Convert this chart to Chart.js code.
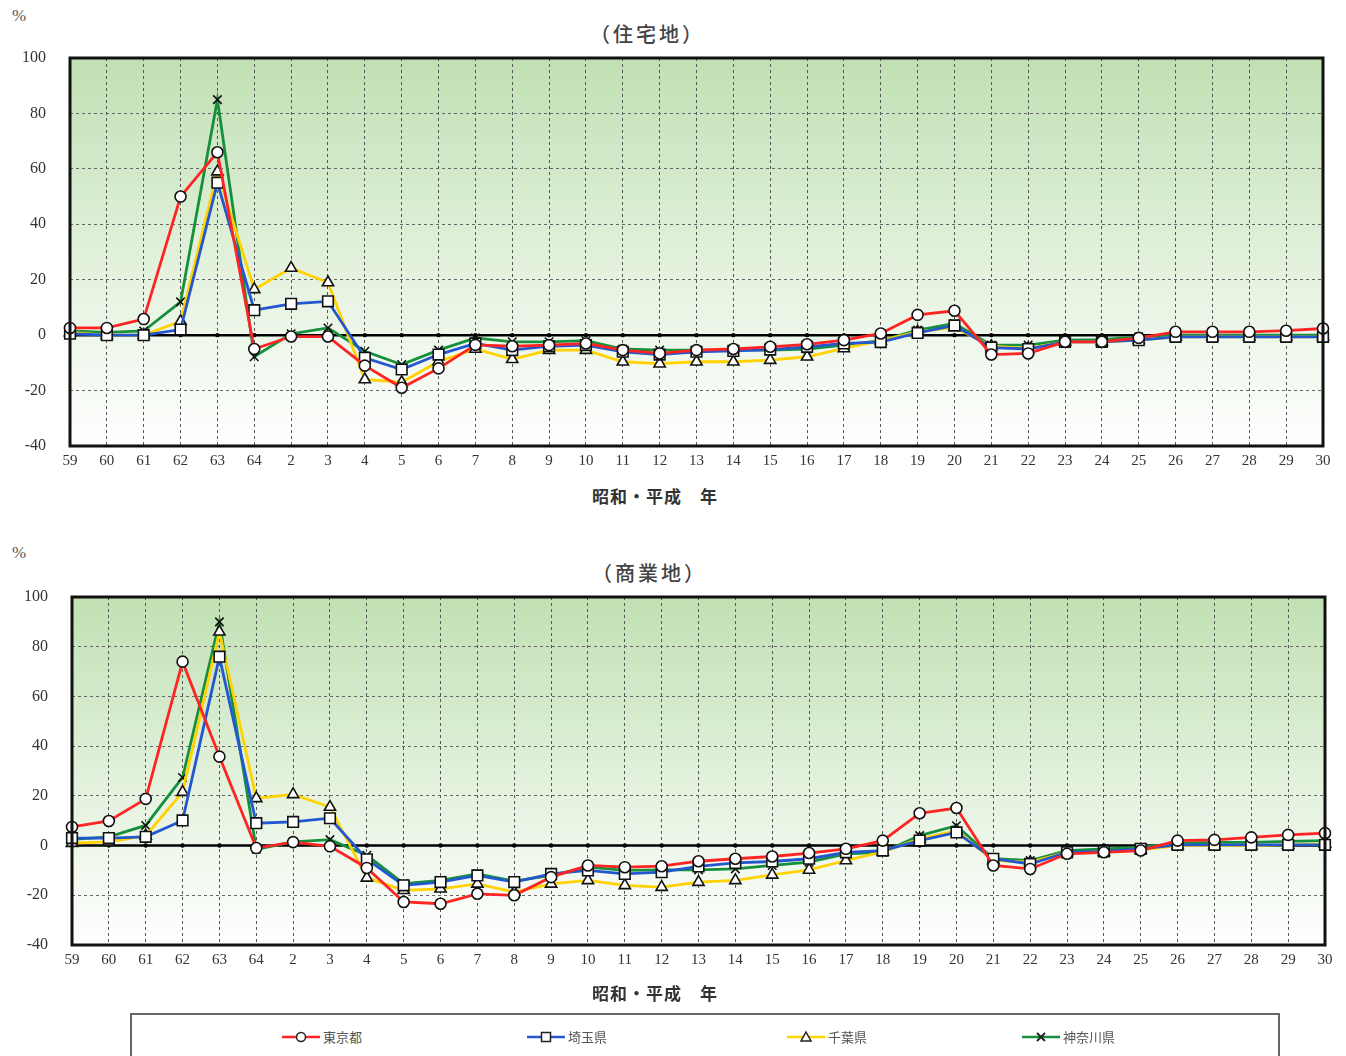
<!DOCTYPE html>
<html lang="ja">
<head>
<meta charset="utf-8">
<script src="https://cdn.jsdelivr.net/npm/chart.js@4.4.1/dist/chart.umd.min.js"></script>
<style>
  body { margin: 0; background: #fff; width: 1346px; height: 1056px; position: relative; overflow: hidden;
         font-family: "Noto Sans CJK JP", sans-serif; }
  .abs { position: absolute; white-space: nowrap; }
  .pct { font-family: "Liberation Serif", serif; font-size: 17px; color: #555; }
  .title { font-size: 20px; font-weight: 500; color: #444; letter-spacing: 3px; }
  .xlab { font-size: 17px; font-weight: 700; color: #333; letter-spacing: 1px; }
  canvas { position: absolute; left: 0; }
  #legend { position: absolute; left: 130px; top: 1013px; width: 1146px; height: 60px; border: 2px solid #666; }
  .item { position: absolute; top: 12px; font-size: 13px; color: #555; display: flex; align-items: center; }
  .item svg { margin-right: 3px; }
</style>
</head>
<body>
<div class="abs pct" style="left:12px;top:6px;">%</div>
<div class="abs title" style="left:590px;top:19px;">（住宅地）</div>
<canvas id="res" width="1346" height="480" style="top:0"></canvas>
<div class="abs xlab" style="left:592px;top:483px;">昭和・平成　年</div>

<div class="abs pct" style="left:12px;top:543px;">%</div>
<div class="abs title" style="left:592px;top:558px;">（商業地）</div>
<canvas id="com" width="1346" height="480" style="top:520px"></canvas>
<div class="abs xlab" style="left:592px;top:980px;">昭和・平成　年</div>

<div id="legend"></div>

<script>
const years = ['59','60','61','62','63','64','2','3','4','5','6','7','8','9','10','11','12','13','14',
  '15','16','17','18','19','20','21','22','23','24','25','26','27','28','29','30'];
const yTicks = [-40, -20, 0, 20, 40, 60, 80, 100];

const prefNames = ['東京都', '埼玉県', '千葉県', '神奈川県'];
const prefColors = ['#ff2424', '#2457cf', '#ffd200', '#16903c'];
const prefMarkers = ['circle', 'rect', 'triangle', 'crossRot'];

// 住宅地
const resTokyo = [2.6, 2.6, 5.8, 50, 66, -5, -0.5, -0.5, -11, -19, -12, -3.5, -4, -3.6, -3, -5.4, -6.6, -5.4, -5,
  -4.2, -3.3, -1.8, 0.6, 7.3, 8.8, -7, -6.6, -2.4, -2.4, -1, 1.2, 1.2, 1.2, 1.6, 2.4];
const resSaitama = [0.5, 0, 0, 2, 55, 9, 11.3, 12.2, -8.2, -12.4, -7, -3, -5.4, -4, -3.6, -6, -7, -6, -5.7,
  -5.2, -4.2, -3, -2.5, 0.8, 3.5, -4.5, -5, -2.4, -2.4, -1.8, -0.6, -0.6, -0.6, -0.6, -0.6];
const resChiba = [1, 0, 0, 5, 59, 16.5, 24.2, 19, -16, -17, -9.5, -5, -8.7, -5.4, -5.4, -9.6, -10.3, -9.6, -9.6,
  -9, -7.8, -4.8, -2, 1.2, 2.8, -4, -4.8, -2.4, -2.4, -1.8, -0.6, -0.6, -0.6, -0.6, -0.6];
const resKanagawa = [1.5, 1, 1.5, 12, 85, -7.8, 0.5, 2.6, -5.8, -10.6, -5.4, -1, -2.4, -2.4, -2, -5, -5.4, -5.4, -5.4,
  -5.4, -5, -3.6, -2, 1.8, 4.2, -3.6, -3.6, -1.8, -1.6, -0.6, 0, 0, 0, 0, 0];

// 商業地
const comTokyo = [7.5, 9.9, 18.8, 74, 35.8, -1, 1.4, -0.3, -9, -22.7, -23.4, -19.4, -20, -12.7, -8, -8.7, -8.3, -6.3, -5.3,
  -4.4, -3, -1.3, 2, 13, 15.1, -8, -9.4, -3.3, -2.7, -2, 2, 2.3, 3.3, 4.3, 5];
const comSaitama = [3, 3, 3.5, 10.1, 76, 9, 9.5, 11, -5.5, -16, -14.7, -12, -14.7, -11.4, -10, -11.4, -10.7, -8.4, -7,
  -6.4, -5.3, -2.7, -2, 2, 5.3, -5.3, -7.4, -2.7, -2.3, -1.3, 0.3, 0.3, 0.3, 0.3, 0.3];
const comChiba = [1, 1.5, 4, 21.5, 86, 19, 20.6, 15.5, -13, -18, -17.4, -15.4, -18.7, -15.4, -14, -16, -16.7, -14.7, -14,
  -11.8, -9.8, -6, -2.5, 2.7, 6, -6, -6.7, -2.7, -2.7, -1.7, 0, 0, 0, 0.3, 0.7];
const comKanagawa = [2.5, 3.5, 8.1, 27.4, 90, -1.5, 1.5, 2.4, -3.9, -15.3, -14, -11.4, -14.3, -12, -8.7, -10, -9.8, -9.8, -9.4,
  -8, -6.7, -3.3, -2.7, 4, 8, -5.3, -6, -2, -1.3, -0.7, 1, 1.3, 1.3, 1.7, 2];

const markerRadius = { circle: 5.5, rect: 7.5, triangle: 6.5, crossRot: 6 };

const plotDecor = {
  id: 'plotDecor',
  beforeDraw(chart) {
    const { ctx, chartArea: a } = chart;
    const g = ctx.createLinearGradient(0, a.top, 0, a.bottom);
    g.addColorStop(0, '#c0e0b3');
    g.addColorStop(0.55, '#e4f2de');
    g.addColorStop(1, '#ffffff');
    ctx.save();
    ctx.fillStyle = g;
    ctx.fillRect(a.left, a.top, a.right - a.left, a.bottom - a.top);
    ctx.restore();
  },
  beforeDatasetsDraw(chart) {
    const { ctx, chartArea: a, scales } = chart;
    const y0 = scales.y.getPixelForValue(0);
    ctx.save();
    ctx.strokeStyle = '#000';
    ctx.lineWidth = 2.5;
    ctx.beginPath();
    ctx.moveTo(a.left, y0);
    ctx.lineTo(a.right, y0);
    ctx.stroke();
    ctx.fillStyle = '#000';
    years.forEach((_, i) => {
      ctx.beginPath();
      ctx.arc(scales.x.getPixelForValue(i), y0, 2.2, 0, Math.PI * 2);
      ctx.fill();
    });
    ctx.restore();
  },
  afterDraw(chart) {
    const { ctx, chartArea: a } = chart;
    ctx.save();
    ctx.strokeStyle = '#111';
    ctx.lineWidth = 3;
    ctx.strokeRect(a.left, a.top, a.right - a.left, a.bottom - a.top);
    ctx.restore();
  }
};

function makeChart(id, series, pad, xPad) {
  const datasets = series.map((data, i) => ({
    label: prefNames[i],
    data,
    borderColor: prefColors[i],
    borderWidth: 2.8,
    pointStyle: prefMarkers[i],
    pointRadius: markerRadius[prefMarkers[i]],
    pointBackgroundColor: '#fff',
    pointBorderColor: '#111',
    pointBorderWidth: 1.6,
    tension: 0
  }));
  return new Chart(document.getElementById(id), {
    type: 'line',
    data: { labels: years, datasets },
    options: {
      responsive: false,
      animation: false,
      layout: { padding: pad },
      plugins: { legend: { display: false }, tooltip: { enabled: false } },
      scales: {
        x: {
          offset: false,
          grid: { color: '#555', lineWidth: 1, drawTicks: false },
          border: { display: false, dash: [3, 3] },
          ticks: { color: '#333', padding: xPad, maxRotation: 0, autoSkip: false,
                   font: { family: '"Liberation Serif", "DejaVu Serif", serif', size: 15 } },
          afterFit: s => { s.height = 30; }
        },
        y: {
          min: -40, max: 100,
          afterBuildTicks: s => { s.ticks = yTicks.map(v => ({ value: v })); },
          grid: { color: '#666', lineWidth: 1, drawTicks: false },
          border: { display: false, dash: [3, 3] },
          ticks: { color: '#333', padding: 24,
                   font: { family: '"Liberation Serif", "DejaVu Serif", serif', size: 16 } },
          afterFit: s => { s.width = pad.yw; }
        }
      }
    },
    plugins: [plotDecor]
  });
}

makeChart('res', [resTokyo, resSaitama, resChiba, resKanagawa],
  { left: 0, top: 58, right: 23, bottom: 4, yw: 70 }, 6);
makeChart('com', [comTokyo, comSaitama, comChiba, comKanagawa],
  { left: 0, top: 77, right: 21, bottom: 25, yw: 72 }, 6);

// legend
const legendX = [150, 395, 655, 890];
const legend = document.getElementById('legend');
prefNames.forEach((name, i) => {
  const m = prefMarkers[i];
  let mark;
  if (m === 'circle') mark = '<circle cx="19" cy="8" r="4.5" fill="#fff" stroke="#222" stroke-width="1.5"/>';
  else if (m === 'rect') mark = '<rect x="14.5" y="3.5" width="9" height="9" fill="#fff" stroke="#222" stroke-width="1.5"/>';
  else if (m === 'triangle') mark = '<polygon points="19,3 24,12 14,12" fill="#fff" stroke="#222" stroke-width="1.5"/>';
  else mark = '<path d="M15 4 L23 12 M23 4 L15 12" stroke="#222" stroke-width="1.8"/>';
  const el = document.createElement('div');
  el.className = 'item';
  el.style.left = legendX[i] + 'px';
  el.innerHTML = '<svg width="38" height="16"><line x1="0" y1="8" x2="38" y2="8" stroke="' + prefColors[i] +
    '" stroke-width="2.5"/>' + mark + '</svg>' + name;
  legend.appendChild(el);
});
</script>
</body>
</html>
